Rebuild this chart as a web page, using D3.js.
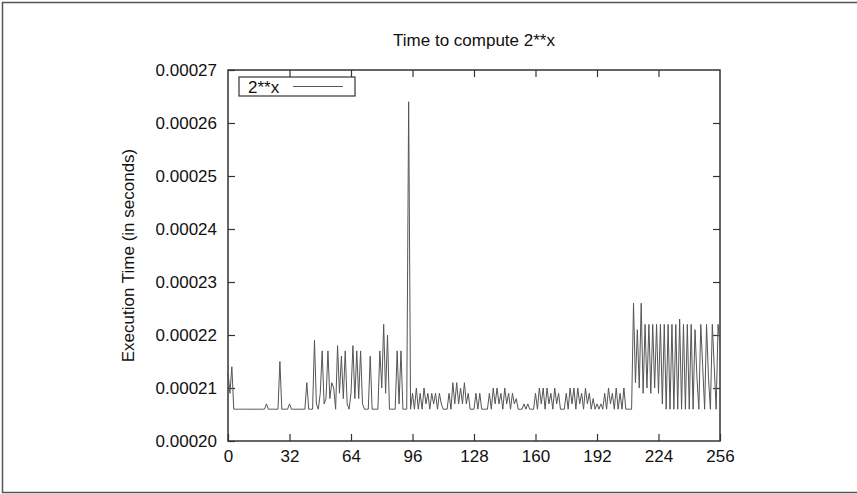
<!DOCTYPE html>
<html>
<head>
<meta charset="utf-8">
<script src="https://cdn.jsdelivr.net/npm/d3@7"></script>
<style>
  body { margin: 0; background: #fff; }
  svg { display: block; font-family: "Liberation Sans", Arial, sans-serif; }
</style>
</head>
<body>
<div id="chart"></div>
<script>
// 数据：x = 0..256，每个点的执行时间（单位：微秒）
const timeMicros = [
  213, 209, 214, 206, 206, 206, 206, 206, 206, 206, 206, 206, 206, 206, 206, 206,
  206, 206, 206, 206, 207, 206, 206, 206, 206, 206, 206, 215, 206, 206, 206, 206,
  207, 206, 206, 206, 206, 206, 206, 206, 206, 211, 206, 206, 206, 219, 207, 206,
  209, 217, 207, 208, 217, 208, 211, 210, 206, 218, 209, 216, 208, 217, 207, 206,
  209, 218, 208, 217, 208, 217, 207, 206, 206, 206, 216, 206, 206, 206, 206, 217,
  210, 222, 209, 220, 206, 206, 206, 206, 217, 207, 217, 206, 206, 206, 264, 206,
  209, 206, 210, 206, 209, 206, 210, 207, 209, 206, 209, 207, 209, 206, 209, 207,
  206, 206, 206, 209, 206, 211, 207, 211, 207, 210, 207, 211, 207, 209, 206, 206,
  206, 209, 206, 209, 206, 206, 206, 206, 209, 206, 210, 207, 210, 207, 209, 206,
  210, 207, 209, 206, 209, 207, 208, 206, 206, 206, 207, 206, 207, 206, 206, 206,
  209, 206, 210, 207, 210, 206, 210, 207, 209, 206, 210, 207, 209, 206, 206, 206,
  209, 206, 210, 207, 210, 206, 210, 207, 209, 206, 210, 207, 209, 206, 208, 206,
  207, 206, 207, 206, 209, 206, 210, 207, 209, 206, 210, 206, 209, 206, 210, 206,
  206, 206, 206, 226, 211, 221, 210, 226, 209, 222, 210, 222, 209, 222, 210, 222,
  209, 222, 207, 222, 206, 222, 206, 222, 206, 222, 206, 223, 206, 222, 206, 222,
  206, 222, 206, 221, 212, 206, 222, 214, 206, 222, 212, 206, 222, 214, 206, 222,
  218
];
const xTicks = [0, 32, 64, 96, 128, 160, 192, 224, 256];
const yTicks = [0.00020, 0.00021, 0.00022, 0.00023, 0.00024, 0.00025, 0.00026, 0.00027];
const seriesName = "2**x";

function drawChart(container) {
    d3.select(container).html("");

    // 尺寸和边距
    const W = 857, H = 494;
    const margin = {top: 70, right: 137, bottom: 53, left: 228},
        width = W - margin.left - margin.right,
        height = H - margin.top - margin.bottom;
    const fontSize = "17px";

    const svg = d3.select(container)
        .append("svg")
        .attr("width", W)
        .attr("height", H);

    // 外框
    svg.append("rect")
        .attr("x", 2.5).attr("y", 2.5)
        .attr("width", W + 10).attr("height", H - 4)
        .attr("fill", "none")
        .attr("stroke", "#555")
        .attr("stroke-width", 1.5);

    const g = svg.append("g")
        .attr("transform", `translate(${margin.left}, ${margin.top})`);

    // 比例尺
    const x = d3.scaleLinear()
        .domain([0, 256])
        .range([0, width]);
    const y = d3.scaleLinear()
        .domain([0.00020, 0.00027])
        .range([height, 0]);

    // 坐标轴（刻度朝内，四边镜像）
    const styleAxis = sel => {
        sel.select(".domain").remove();
        sel.selectAll(".tick line").attr("stroke", "#333").attr("stroke-width", 1.2);
        sel.selectAll("text")
            .attr("fill", "#111")
            .style("font-size", fontSize);
    };

    g.append("g")
        .attr("transform", `translate(0, ${height})`)
        .call(d3.axisBottom(x).tickValues(xTicks).tickSizeInner(-7).tickSizeOuter(0).tickPadding(9))
        .call(styleAxis);
    g.append("g")
        .call(d3.axisTop(x).tickValues(xTicks.slice(1, -1)).tickSizeInner(-7).tickSizeOuter(0).tickFormat(""))
        .call(styleAxis);
    g.append("g")
        .call(d3.axisLeft(y).tickValues(yTicks).tickSizeInner(-7).tickSizeOuter(0).tickPadding(11)
            .tickFormat(d3.format(".5f")))
        .call(styleAxis);
    g.append("g")
        .attr("transform", `translate(${width}, 0)`)
        .call(d3.axisRight(y).tickValues(yTicks.slice(1, -1)).tickSizeInner(-7).tickSizeOuter(0).tickFormat(""))
        .call(styleAxis);

    // 绘图区边框
    g.append("rect")
        .attr("width", width)
        .attr("height", height)
        .attr("fill", "none")
        .attr("stroke", "#333")
        .attr("stroke-width", 1.5);

    // 折线
    const line = d3.line()
        .x((d, i) => x(i))
        .y(d => y(d * 1e-6));

    g.append("path")
        .datum(timeMicros)
        .attr("fill", "none")
        .attr("stroke", "#555")
        .attr("stroke-width", 1)
        .attr("d", line);

    // 图例
    const legend = g.append("g").attr("transform", "translate(11, 7)");
    legend.append("rect")
        .attr("width", 116).attr("height", 19)
        .attr("fill", "#fff")
        .attr("stroke", "#333")
        .attr("stroke-width", 1.2);
    legend.append("text")
        .attr("x", 9).attr("y", 15.5)
        .style("font-size", fontSize)
        .attr("fill", "#111")
        .text(seriesName);
    legend.append("line")
        .attr("x1", 54).attr("x2", 104)
        .attr("y1", 9.5).attr("y2", 9.5)
        .attr("stroke", "#555");

    // 标题
    svg.append("text")
        .attr("x", margin.left + width / 2)
        .attr("y", 46)
        .attr("text-anchor", "middle")
        .style("font-size", fontSize)
        .attr("fill", "#111")
        .text("Time to compute 2**x");

    // Y轴标题
    svg.append("text")
        .attr("transform", "rotate(-90)")
        .attr("x", -(margin.top + height / 2))
        .attr("y", 134)
        .attr("text-anchor", "middle")
        .style("font-size", fontSize)
        .attr("fill", "#111")
        .text("Execution Time (in seconds)");
}

drawChart("#chart");
</script>
</body>
</html>
